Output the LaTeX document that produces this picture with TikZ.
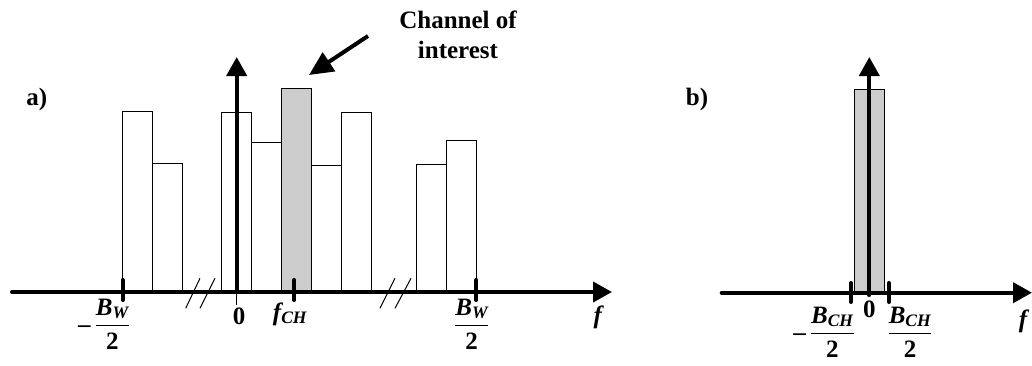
\documentclass[tikz,border=0pt]{standalone}
\usepackage{amsmath}
\usepackage{fontspec}
\setmainfont{Liberation Serif}
\usetikzlibrary{arrows.meta,positioning}
\definecolor{chgray}{gray}{0.8}
\tikzset{
  axisline/.style={line width=4pt, line cap=round, -{Triangle[length=19pt,width=20pt]}},
  bar/.style={draw, line width=0.9pt, fill=white},
  chbar/.style={bar, fill=chgray},
  tickmark/.style={line width=4pt, line cap=round},
  breakmark/.style={line width=1pt},
  lbl/.style={font=\fontsize{25}{30}\selectfont\bfseries},
}
\newcommand{\bwfrac}[1]{\dfrac{\text{\itshape B}_{\text{\itshape #1}}}{\text{2}}}
\begin{document}
\begin{tikzpicture}[x=1pt,y=-1pt]
    \useasboundingbox (0,0) rectangle (1032,365);

    % Spectrum a): adjacent channels
    \foreach \x/\h in {122.7/111, 152.7/163.7, 221.7/112.7, 251.3/142.3,
                       311.3/165.7, 341.7/112.7, 416.3/164.3, 446.3/140.7}
        \draw[bar] (\x,292) rectangle (\x+30,\h);

    % Channel of interest
    \draw[chbar] (281.3,292) rectangle (311.3,88.3);

    % Axes a)
    \coordinate (a-xstart) at (12,292);
    \coordinate (a-xend) at (612,292);
    \coordinate (a-origin) at (236.7,292);
    \coordinate (a-ytop) at (236.7,57);
    \draw[line width=1pt] (a-origin) -- (236.7,305);
    \draw[axisline] (a-xstart) -- (a-xend);
    \draw[axisline] (a-origin) -- (a-ytop);

    % Ticks a)
    \draw[tickmark] (122.7,280) -- (122.7,300);
    \draw[tickmark] (294.3,280) -- (294.3,300);
    \draw[tickmark] (476.3,280) -- (476.3,300);

    % Breaks
    \draw[breakmark] (185.7,308.3) -- (200,278.3);
    \draw[breakmark] (200,308.3) -- (215,278.3);
    \draw[breakmark] (380,308.3) -- (395,278.3);
    \draw[breakmark] (395,308.3) -- (411,278.3);

    % Labels a)
    \node[lbl] (a-name) at (36.7,99) {a)};
    \node[lbl] (a-zero) at (239,316) {0};
    \node[lbl] (a-fch) at (290,314) {\itshape f\textsubscript{CH}};
    \node[lbl] (a-bwl) at (104,324) {–\,$\bwfrac{W}$};
    \node[lbl] (a-bwr) at (471.7,324) {$\bwfrac{W}$};
    \node[lbl] (a-f) at (597.7,317) {\itshape f};

    % Channel of interest pointer
    \node[lbl, align=center] (a-note) at (458,35) {Channel of\\interest};
    \coordinate (a-ptail) at (368,36);
    \coordinate (a-phead) at (309,75);
    \draw[line width=4pt, -{Triangle[length=24pt,width=22pt]}] (a-ptail) -- (a-phead);

    % Spectrum b): channel at baseband
    \draw[chbar] (854.3,292.7) rectangle (884.3,89.3);

    % Axes b)
    \coordinate (b-xstart) at (721.7,292.7);
    \coordinate (b-xend) at (1032,292.7);
    \coordinate (b-origin) at (869.3,295);
    \coordinate (b-ytop) at (869.3,57);
    \draw[axisline] (b-xstart) -- (b-xend);
    \draw[axisline] (b-origin) -- (b-ytop);

    % Ticks b)
    \draw[tickmark] (851,283) -- (851,302);
    \draw[tickmark] (889,283) -- (889,302);

    % Labels b)
    \node[lbl] (b-name) at (697,99) {b)};
    \node[lbl] (b-zero) at (869.3,309) {0};
    \node[lbl] (b-bchl) at (824,332) {–\,$\bwfrac{CH}$};
    \node[lbl] (b-bchr) at (910,332) {$\bwfrac{CH}$};
    \node[lbl] (b-f) at (1023,321) {\itshape f};
\end{tikzpicture}
\end{document}
